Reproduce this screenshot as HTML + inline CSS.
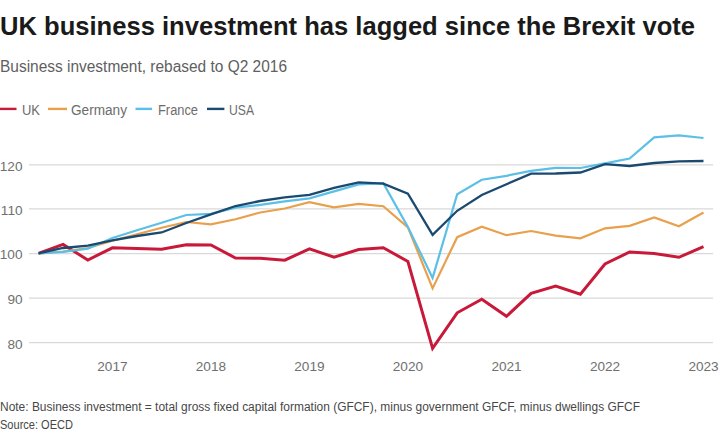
<!DOCTYPE html><html><head><meta charset="utf-8"><style>html,body{margin:0;padding:0;background:#fff;width:720px;height:436px;overflow:hidden}svg{display:block}</style></head><body><svg width="720" height="436" viewBox="0 0 720 436">
<rect width="720" height="436" fill="#fff"/>
<text x="0" y="35" font-family='"Liberation Sans", sans-serif' font-weight="bold" font-size="26" fill="#1a1a1a" textLength="695" lengthAdjust="spacingAndGlyphs">UK business investment has lagged since the Brexit vote</text>
<text x="0" y="72.2" font-family='"Liberation Sans", sans-serif' font-size="16" fill="#606060" textLength="287" lengthAdjust="spacingAndGlyphs">Business investment, rebased to Q2 2016</text>
<line x1="0" y1="108.9" x2="16.5" y2="108.9" stroke="#c8193a" stroke-width="2.4"/>
<text x="22" y="115" font-family='"Liberation Sans", sans-serif' font-size="14" fill="#6c6c6c" textLength="18" lengthAdjust="spacingAndGlyphs">UK</text>
<line x1="48" y1="108.9" x2="67" y2="108.9" stroke="#e9a04c" stroke-width="2.4"/>
<text x="71" y="115" font-family='"Liberation Sans", sans-serif' font-size="14" fill="#6c6c6c" textLength="56" lengthAdjust="spacingAndGlyphs">Germany</text>
<line x1="135.5" y1="108.9" x2="152" y2="108.9" stroke="#5bbfe6" stroke-width="2.4"/>
<text x="158" y="115" font-family='"Liberation Sans", sans-serif' font-size="14" fill="#6c6c6c" textLength="40" lengthAdjust="spacingAndGlyphs">France</text>
<line x1="207" y1="108.9" x2="224.4" y2="108.9" stroke="#1b4a70" stroke-width="2.4"/>
<text x="229" y="115" font-family='"Liberation Sans", sans-serif' font-size="14" fill="#6c6c6c" textLength="25" lengthAdjust="spacingAndGlyphs">USA</text>
<line x1="29" y1="164.8" x2="713" y2="164.8" stroke="#d9d9d9" stroke-width="1.2"/>
<text x="22.5" y="170.60000000000002" text-anchor="end" font-family='"Liberation Sans", sans-serif' font-size="13.6" fill="#707070">120</text>
<line x1="29" y1="208.9" x2="713" y2="208.9" stroke="#d9d9d9" stroke-width="1.2"/>
<text x="22.5" y="214.70000000000002" text-anchor="end" font-family='"Liberation Sans", sans-serif' font-size="13.6" fill="#707070">110</text>
<line x1="29" y1="253.6" x2="713" y2="253.6" stroke="#d9d9d9" stroke-width="1.2"/>
<text x="22.5" y="259.4" text-anchor="end" font-family='"Liberation Sans", sans-serif' font-size="13.6" fill="#707070">100</text>
<line x1="29" y1="298.1" x2="713" y2="298.1" stroke="#d9d9d9" stroke-width="1.2"/>
<text x="22.5" y="303.90000000000003" text-anchor="end" font-family='"Liberation Sans", sans-serif' font-size="13.6" fill="#707070">90</text>
<line x1="29" y1="342.7" x2="713" y2="342.7" stroke="#d9d9d9" stroke-width="1.2"/>
<text x="22.5" y="348.5" text-anchor="end" font-family='"Liberation Sans", sans-serif' font-size="13.6" fill="#707070">80</text>
<text x="112.4" y="371" text-anchor="middle" font-family='"Liberation Sans", sans-serif' font-size="13.6" fill="#707070">2017</text>
<text x="210.9" y="371" text-anchor="middle" font-family='"Liberation Sans", sans-serif' font-size="13.6" fill="#707070">2018</text>
<text x="309.4" y="371" text-anchor="middle" font-family='"Liberation Sans", sans-serif' font-size="13.6" fill="#707070">2019</text>
<text x="407.9" y="371" text-anchor="middle" font-family='"Liberation Sans", sans-serif' font-size="13.6" fill="#707070">2020</text>
<text x="506.5" y="371" text-anchor="middle" font-family='"Liberation Sans", sans-serif' font-size="13.6" fill="#707070">2021</text>
<text x="605.0" y="371" text-anchor="middle" font-family='"Liberation Sans", sans-serif' font-size="13.6" fill="#707070">2022</text>
<text x="703.5" y="371" text-anchor="middle" font-family='"Liberation Sans", sans-serif' font-size="13.6" fill="#707070">2023</text>
<polyline points="38.5,253.3 63.1,244.4 87.8,260.0 112.4,247.8 137.0,248.4 161.6,249.2 186.3,244.8 210.9,245.0 235.5,258.0 260.2,258.2 284.8,260.2 309.4,248.8 334.1,257.2 358.7,249.5 383.3,247.7 407.9,261.5 432.6,348.3 457.2,312.8 481.8,299.2 506.5,316.3 531.1,293.3 555.7,286.0 580.4,294.2 605.0,264.0 629.6,252.0 654.2,253.5 678.9,257.3 703.5,246.7" fill="none" stroke="#c8193a" stroke-width="3.0" stroke-linejoin="miter" stroke-linecap="butt"/>
<polyline points="38.5,253.3 63.1,251.5 87.8,248.0 112.4,240.8 137.0,234.2 161.6,227.8 186.3,222.0 210.9,224.4 235.5,219.3 260.2,212.5 284.8,208.5 309.4,202.2 334.1,207.4 358.7,203.9 383.3,206.2 407.9,227.3 432.6,288.4 457.2,237.2 481.8,226.7 506.5,235.2 531.1,231.0 555.7,235.7 580.4,238.3 605.0,228.3 629.6,225.8 654.2,217.5 678.9,226.3 703.5,212.5" fill="none" stroke="#e9a04c" stroke-width="2.2" stroke-linejoin="miter" stroke-linecap="butt"/>
<polyline points="38.5,253.3 63.1,251.8 87.8,248.8 112.4,238.0 137.0,230.3 161.6,222.8 186.3,215.0 210.9,213.9 235.5,207.7 260.2,204.9 284.8,201.4 309.4,198.3 334.1,191.4 358.7,184.4 383.3,183.1 407.9,227.0 432.6,277.9 457.2,194.2 481.8,179.7 506.5,175.8 531.1,170.8 555.7,167.8 580.4,168.0 605.0,163.3 629.6,158.5 654.2,137.3 678.9,135.3 703.5,138.0" fill="none" stroke="#5bbfe6" stroke-width="2.2" stroke-linejoin="miter" stroke-linecap="butt"/>
<polyline points="38.5,253.3 63.1,248.0 87.8,245.6 112.4,240.3 137.0,236.0 161.6,232.5 186.3,223.0 210.9,214.4 235.5,206.0 260.2,201.0 284.8,197.4 309.4,194.9 334.1,187.9 358.7,182.4 383.3,183.7 407.9,193.7 432.6,234.9 457.2,210.8 481.8,195.0 506.5,184.2 531.1,173.7 555.7,173.5 580.4,172.5 605.0,164.2 629.6,166.0 654.2,163.0 678.9,161.3 703.5,161.0" fill="none" stroke="#1b4a70" stroke-width="2.3" stroke-linejoin="miter" stroke-linecap="butt"/>
<text x="0" y="410.8" font-family='"Liberation Sans", sans-serif' font-size="12" fill="#474747" textLength="640" lengthAdjust="spacingAndGlyphs">Note: Business investment = total gross fixed capital formation (GFCF), minus government GFCF, minus dwellings GFCF</text>
<text x="0" y="429.2" font-family='"Liberation Sans", sans-serif' font-size="12" fill="#474747" textLength="73" lengthAdjust="spacingAndGlyphs">Source: OECD</text>
</svg></body></html>
